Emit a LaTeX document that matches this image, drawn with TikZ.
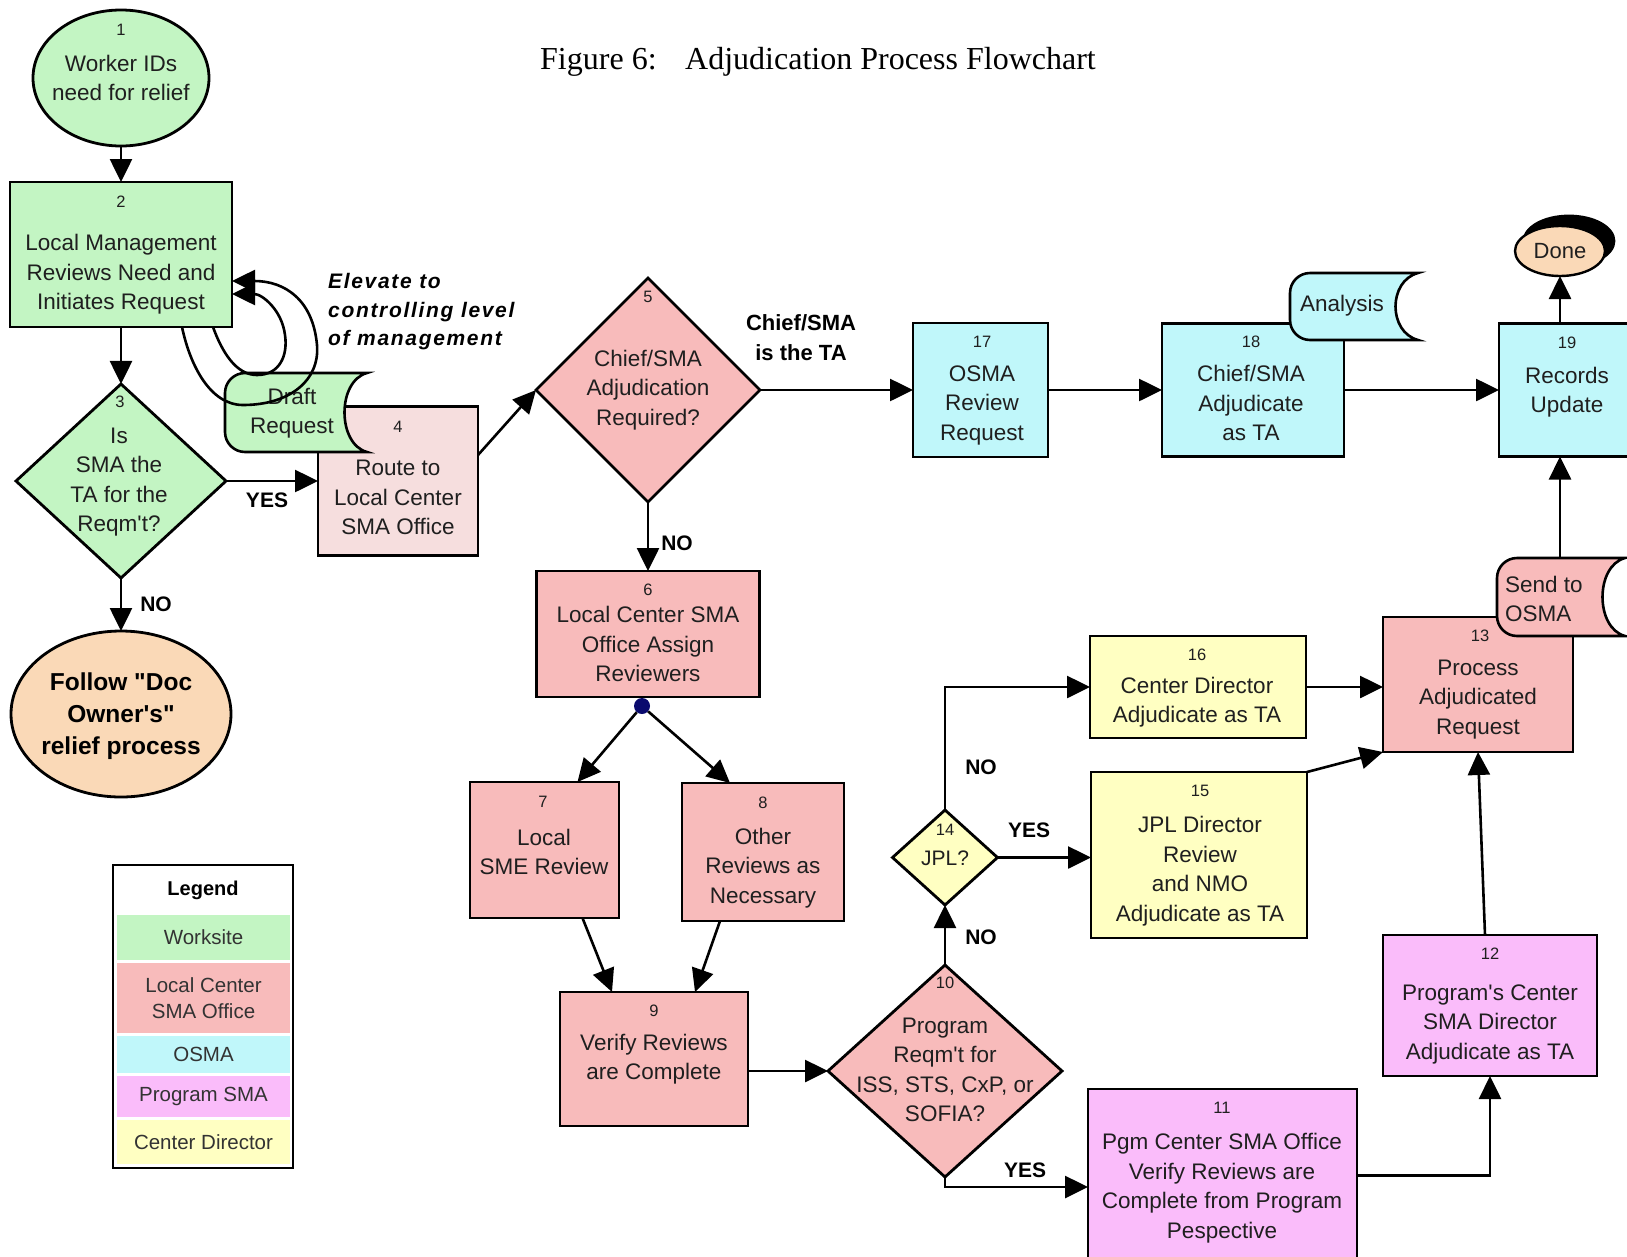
\documentclass[tikz,border=0pt]{standalone}
\usepackage{fontspec}
\setmainfont{Liberation Sans}[Ligatures=TeXOff]
\newfontfamily\titlefont{Liberation Serif}
\usetikzlibrary{shapes.geometric,arrows.meta,calc}

\definecolor{cgreen}{RGB}{195,245,195}
\definecolor{cpink}{RGB}{248,187,187}
\definecolor{cpale}{RGB}{246,222,222}
\definecolor{ccyan}{RGB}{192,247,250}
\definecolor{cmag}{RGB}{250,188,250}
\definecolor{cyel}{RGB}{255,255,194}
\definecolor{cpeach}{RGB}{250,217,183}
\definecolor{cdot}{RGB}{10,10,110}

\tikzset{
 shp/.style={draw=black, line width=2.8pt, inner sep=0pt, outer sep=0pt},
 boxn/.style={shp, rectangle},
 dia/.style={shp, diamond},
 ell/.style={shp, ellipse},
 txt/.style={inner sep=0pt, align=center, text=black!88, font=\fontsize{22.5}{29.5}\selectfont},
 num/.style={inner sep=0pt, text=black!88, font=\fontsize{16.5}{18}\selectfont},
 lbl/.style={inner sep=0pt, font=\bfseries\fontsize{21}{26}\selectfont},
 arr/.style={line width=2.6pt, -{Triangle[length=23pt,width=22pt]}},
 legb/.style={inner sep=0pt, minimum width=173pt, align=center, text=black!80, font=\fontsize{20.5}{26}\selectfont},
}

\newcommand\docpath[5]{%
 \filldraw[fill=#5, line width=2.6pt] (#3,#2) -- ({#1+20},#2) .. controls ({#1+9},#2) and (#1,{#2+9}) .. (#1,{#2+20}) -- (#1,{#4-20}) .. controls (#1,{#4-9}) and ({#1+9},#4) .. ({#1+20},#4) -- (#3,#4) .. controls ({#3-30},{#4-8}) and ({#3-30},{#2+8}) .. (#3,#2) -- cycle;}

\begin{document}
\begin{tikzpicture}[x=1pt,y=-1pt]
\useasboundingbox (0,0) rectangle (1627,1256);

% title
\node[anchor=base west, inner sep=0pt, font=\titlefont\fontsize{32}{36}\selectfont] (fig) at (540,69) {Figure 6:};
\node[anchor=base west, inner sep=0pt, font=\titlefont\fontsize{32}{36}\selectfont] (title) at (685,69) {Adjudication Process Flowchart};

% shapes
\node[ell, fill=cgreen, minimum width=176pt, minimum height=136pt] (n1) at (121,78) {};
\node[boxn, fill=cgreen, minimum width=222pt, minimum height=145pt] (b2) at (121,254.5) {};
\node[dia, fill=cgreen, minimum width=210pt, minimum height=194pt] (d3) at (121,481) {};
\node[ell, fill=cpeach, minimum width=220pt, minimum height=166pt] (f1) at (121,714) {};
\node[boxn, fill=cpale, minimum width=160pt, minimum height=149pt] (b4) at (398,481) {};
\node[dia, fill=cpink, minimum width=224pt, minimum height=224pt] (d5) at (648,390) {};
\node[boxn, fill=ccyan, minimum width=135pt, minimum height=134pt] (b17) at (980.5,390) {};
\node[boxn, fill=ccyan, minimum width=182pt, minimum height=133pt] (b18) at (1253,390) {};
\node[boxn, fill=ccyan, minimum width=137pt, minimum height=133pt] (b19) at (1567.5,390) {};
\node[ell, fill=black, minimum width=90pt, minimum height=50pt] (dsh) at (1569,241) {};
\node[ell, fill=cpeach, line width=2.4pt, minimum width=90pt, minimum height=50pt] (done) at (1560,251) {};
\node[boxn, fill=cpink, minimum width=190pt, minimum height=135pt] (b13) at (1478,684.5) {};
\node[boxn, fill=cpink, minimum width=223pt, minimum height=126pt] (b6) at (648,634) {};
\node[boxn, fill=cpink, minimum width=149pt, minimum height=136pt] (b7) at (544.5,850) {};
\node[boxn, fill=cpink, minimum width=162pt, minimum height=138pt] (b8) at (763,852) {};
\node[boxn, fill=cpink, minimum width=188pt, minimum height=134pt] (b9) at (654,1059) {};
\node[dia, fill=cpink, minimum width=234pt, minimum height=212pt] (d10) at (945,1071) {};
\node[dia, fill=cyel, minimum width=105pt, minimum height=95pt] (d14) at (945,857.5) {};
\node[boxn, fill=cyel, minimum width=216pt, minimum height=102pt] (b16) at (1198,687) {};
\node[boxn, fill=cyel, minimum width=216pt, minimum height=166pt] (b15) at (1199,855) {};
\node[boxn, fill=cmag, minimum width=269pt, minimum height=173pt] (b11) at (1222.5,1175.5) {};
\node[boxn, fill=cmag, minimum width=214pt, minimum height=141pt] (b12) at (1490,1005.5) {};
\node[circle, fill=cdot, inner sep=0pt, minimum size=16pt] (fork) at (642,706) {};

% document shapes
\docpath{225}{373}{367}{452}{cgreen}
\docpath{1290}{273}{1418}{340}{ccyan}
\docpath{1497}{558}{1625}{636}{cpink}

% texts
\node[num] (n1n) at (121,30) {1};
\node[txt] (n1t) at (121,78) {Worker IDs\\need for relief};
\node[num] (b2n) at (121,202) {2};
\node[txt] (b2t) at (121,274.5) {Local Management\\Reviews Need and\\Initiates Request};
\node[num] (d3n) at (120,402) {3};
\node[txt] (d3t) at (119,482) {Is\\SMA the\\TA for the\\Reqm't?};
\node[txt, text=black, font=\bfseries\fontsize{24.5}{32}\selectfont] (f1t) at (121,716) {Follow "Doc\\Owner's"\\relief process};
\node[num] (b4n) at (398,427) {4};
\node[txt] (b4t) at (398,497.5) {Route to\\Local Center\\SMA Office};
\node[txt] (drt) at (292,413) {Draft\\Request};
\node[num] (d5n) at (648,297) {5};
\node[txt] (d5t) at (648,390) {Chief/SMA\\Adjudication\\Required?};
\node[inner sep=0pt, align=center, font=\bfseries\fontsize{22}{30}\selectfont] (ta) at (801,338) {Chief/SMA\\is the TA};
\node[num] (b17n) at (982,342) {17};
\node[txt] (b17t) at (982,405) {OSMA\\Review\\Request};
\node[num] (b18n) at (1251,342) {18};
\node[txt] (b18t) at (1251,403) {Chief/SMA\\Adjudicate\\as TA};
\node[txt] (ant) at (1342,306) {Analysis};
\node[num] (b19n) at (1567,343) {19};
\node[txt] (b19t) at (1567,392) {Records\\Update};
\node[txt, font=\fontsize{22}{26}\selectfont] (donet) at (1560,251) {Done};
\node[txt, align=left, anchor=west] (sendt) at (1505,599) {Send to\\OSMA};
\node[num] (b13n) at (1480,636) {13};
\node[txt] (b13t) at (1478,699.5) {Process\\Adjudicated\\Request};
\node[num] (b6n) at (648,590) {6};
\node[txt] (b6t) at (648,644) {Local Center SMA\\Office Assign\\Reviewers};
\node[num] (b7n) at (543,802) {7};
\node[txt] (b7t) at (544,852) {Local\\SME Review};
\node[num] (b8n) at (763,803) {8};
\node[txt] (b8t) at (763,868) {Other\\Reviews as\\Necessary};
\node[num] (b9n) at (654,1011) {9};
\node[txt] (b9t) at (654,1059) {Verify Reviews\\are Complete};
\node[num] (d10n) at (945,983) {10};
\node[txt] (d10t) at (945,1070) {Program\\Reqm't for\\ISS, STS, CxP, or\\SOFIA?};
\node[num] (d14n) at (945,830) {14};
\node[txt, font=\fontsize{21}{26}\selectfont] (d14t) at (945,858) {JPL?};
\node[num] (b16n) at (1197,655) {16};
\node[txt] (b16t) at (1197,702) {Center Director\\Adjudicate as TA};
\node[num] (b15n) at (1200,791) {15};
\node[txt] (b15t) at (1200,871) {JPL Director\\Review\\and NMO\\Adjudicate as TA};
\node[num] (b11n) at (1222,1108) {11};
\node[txt] (b11t) at (1222,1188) {Pgm Center SMA Office\\Verify Reviews are\\Complete from Program\\Pespective};
\node[num] (b12n) at (1490,954) {12};
\node[txt] (b12t) at (1490,1024) {Program's Center\\SMA Director\\Adjudicate as TA};

% edge labels
\node[lbl] (no3) at (156,604) {NO};
\node[lbl] (yes3) at (267,500) {YES};
\node[lbl] (no5) at (677,543) {NO};
\node[lbl] (no14) at (981,767) {NO};
\node[lbl] (yes14) at (1029,830) {YES};
\node[lbl] (no10) at (981,937) {NO};
\node[lbl] (yes10) at (1025,1170) {YES};
\node[anchor=west, align=left, inner sep=0pt, font=\bfseries\itshape\fontsize{21}{28.5}\selectfont\addfontfeature{LetterSpace=8}] (elev) at (328,312) {Elevate to\\controlling level\\of management};

% legend
\node[boxn, line width=2.5pt, fill=white, minimum width=180pt, minimum height=303pt] (leg) at (203,1016.5) {};
\node[inner sep=0pt, font=\bfseries\fontsize{20}{24}\selectfont] (legt) at (203,890) {Legend};
\node[legb, fill=cgreen, minimum height=45pt] (lg1) at (203.5,937.5) {Worksite};
\node[legb, fill=cpink, minimum height=70pt] (lg2) at (203.5,998) {Local Center\\SMA Office};
\node[legb, fill=ccyan, minimum height=37pt] (lg3) at (203.5,1054.5) {OSMA};
\node[legb, fill=cmag, minimum height=41pt] (lg4) at (203.5,1096.5) {Program SMA};
\node[legb, fill=cyel, minimum height=44pt] (lg5) at (203.5,1142) {Center Director};

% connectors
\draw[arr] (n1) -- (b2);
\draw[arr] (b2) -- (d3);
\draw[arr] (d3) -- (f1);
\draw[arr] (d3) -- (b4);
\draw[arr] ([yshift=26pt]b4.east) -- (d5.west);
\draw[arr] (d5) -- (b17);
\draw[arr] (b17) -- (b18);
\draw[arr] (b18) -- (b19);
\draw[arr] (b19.north -| done) -- (done.south);
\coordinate (sendtop) at (1560,558);
\draw[arr] (sendtop) -- (b19.south -| sendtop);
\draw[arr] (d5) -- (b6);
\draw[arr] (fork) -- ([xshift=33pt]b7.north);
\draw[arr] (fork) -- ([xshift=-33pt]b8.north);
\draw[arr] ([xshift=38pt]b7.south) -- ([xshift=-42pt]b9.north);
\draw[arr] ([xshift=-43pt]b8.south) -- ([xshift=41pt]b9.north);
\draw[arr] (b9.east |- d10.west) -- (d10.west);
\draw[arr] (d10) -- (d14);
\draw[arr] (d14.north) |- (b16.west);
\draw[arr] (d14.east) -- (b15.west |- d14.east);
\draw[arr] (b16.east) -- (b13.west |- b16.east);
\draw[arr] (b15.north east) -- (b13.south west);
\draw[arr] (d10.south) |- ([yshift=-11.5pt]b11.west);
\draw[arr] (b11.east) -| (b12.south);
\draw[arr] ([xshift=-5pt]b12.north) -- (b13.south);
% elevate loops
\draw[arr] ([xshift=61pt]b2.south) .. controls (190,365) and (210,405) .. (243,405) .. controls (290,405) and (320,380) .. (317,345) .. controls (313,300) and (285,281) .. ([yshift=-26.5pt]b2.east);
\draw[arr] ([xshift=92pt]b2.south) .. controls (225,360) and (240,375) .. (257,375) .. controls (280,375) and (288,355) .. (285,335) .. controls (282,310) and (262,294) .. ([yshift=-39.5pt]b2.east);
\end{tikzpicture}
\end{document}
